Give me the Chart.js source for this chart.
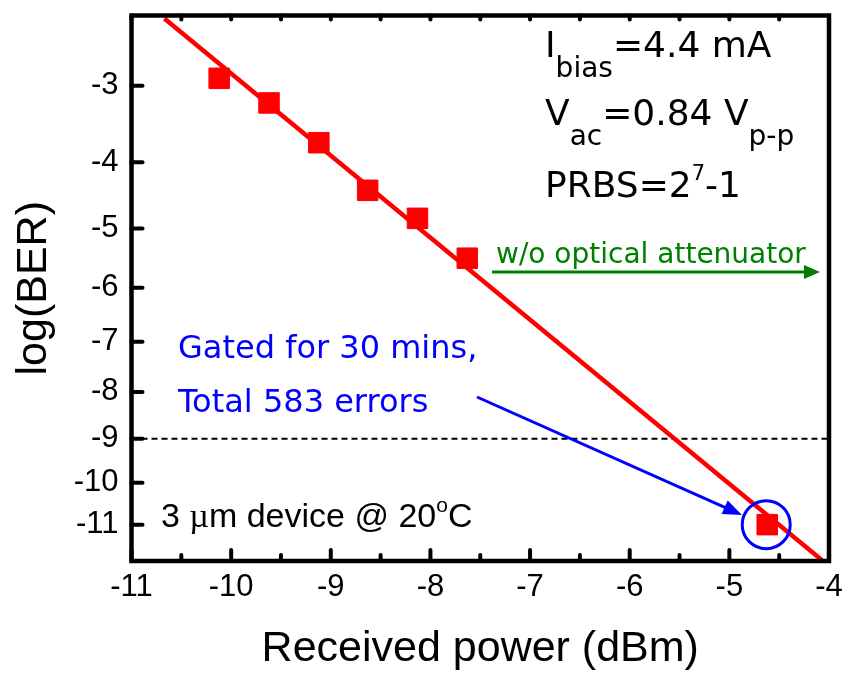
<!DOCTYPE html>
<html>
<head>
<meta charset="utf-8">
<script src="https://cdn.jsdelivr.net/npm/chart.js@4.4.1/dist/chart.umd.min.js"></script>
<style>
  html, body { margin: 0; padding: 0; background: #fff; }
  #ber-chart { display: block; }
</style>
</head>
<body>
<canvas id="ber-chart" width="845" height="673"></canvas>
<script>
// measured points
const powerDbm = [-10.12, -9.62, -9.12, -8.63, -8.13, -7.63, -4.62];
const logBer = [-2.91, -3.21, -3.73, -4.41, -4.84, -5.49, -11.0];

// linear fit on the Q scale
const fitPower = [-10.67, -4.07];
const fitLogBer = [-2.25, -11.89];

// error-free reference level
const floorPower = [-11, -4];
const floorLogBer = [-9, -9];

const yTicks = [-3, -4, -5, -6, -7, -8, -9, -10, -11];
const yRange = [-11.91, -2.22];
const xRange = [-11, -4];

// inverse normal cdf (Acklam)
function normInv(p) {
  const a = [-3.969683028665376e+01, 2.209460984245205e+02, -2.759285104469687e+02, 1.383577518672690e+02, -3.066479806614716e+01, 2.506628277459239e+00];
  const b = [-5.447609879822406e+01, 1.615858368580409e+02, -1.556989798598866e+02, 6.680131188771972e+01, -1.328068155288572e+01];
  const c = [-7.784894002430293e-03, -3.223964580411365e-01, -2.400758277161838e+00, -2.549732539343734e+00, 4.374664141464968e+00, 2.938163982698783e+00];
  const d = [7.784695709041462e-03, 3.224671290700398e-01, 2.445134137142996e+00, 3.754408661907416e+00];
  const plow = 0.02425, phigh = 1 - plow;
  let q, r;
  if (p < plow) {
    q = Math.sqrt(-2 * Math.log(p));
    return (((((c[0]*q+c[1])*q+c[2])*q+c[3])*q+c[4])*q+c[5]) / ((((d[0]*q+d[1])*q+d[2])*q+d[3])*q+1);
  }
  if (p <= phigh) {
    q = p - 0.5; r = q * q;
    return (((((a[0]*r+a[1])*r+a[2])*r+a[3])*r+a[4])*r+a[5])*q / (((((b[0]*r+b[1])*r+b[2])*r+b[3])*r+b[4])*r+1);
  }
  q = Math.sqrt(-2 * Math.log(1 - p));
  return -(((((c[0]*q+c[1])*q+c[2])*q+c[3])*q+c[4])*q+c[5]) / ((((d[0]*q+d[1])*q+d[2])*q+d[3])*q+1);
}

// Q factor for a given log10(BER)
function qOf(lb) {
  return -normInv(Math.pow(10, lb));
}

// y axis that is linear in Q, labelled in log(BER)
class QberScale extends Chart.LinearScale {
  static id = 'qber';
  static defaults = {};

  buildTicks() {
    return yTicks.map(v => ({ value: v }));
  }

  getPixelForValue(value) {
    const qTop = qOf(this.max);
    const qBottom = qOf(this.min);
    return this.getPixelForDecimal((qBottom - qOf(value)) / (qBottom - qTop));
  }

  getValueForPixel(pixel) {
    const qTop = qOf(this.max);
    const qBottom = qOf(this.min);
    const q = qBottom - this.getDecimalForPixel(pixel) * (qBottom - qTop);
    // bisection back to log(BER)
    let lo = this.min, hi = this.max;
    for (let i = 0; i < 50; i++) {
      const mid = (lo + hi) / 2;
      if (qOf(mid) > q) lo = mid; else hi = mid;
    }
    return (lo + hi) / 2;
  }
}
Chart.register(QberScale);

function arrow(ctx, x0, y0, x1, y1, color, width, headLen, headWidth) {
  const ang = Math.atan2(y1 - y0, x1 - x0);
  const bx = x1 - Math.cos(ang) * headLen;
  const by = y1 - Math.sin(ang) * headLen;
  ctx.save();
  ctx.strokeStyle = color;
  ctx.fillStyle = color;
  ctx.lineWidth = width;
  ctx.beginPath();
  ctx.moveTo(x0, y0);
  ctx.lineTo(bx + Math.cos(ang) * 2, by + Math.sin(ang) * 2);
  ctx.stroke();
  ctx.beginPath();
  ctx.moveTo(x1, y1);
  ctx.lineTo(bx + Math.sin(ang) * headWidth / 2, by - Math.cos(ang) * headWidth / 2);
  ctx.lineTo(bx - Math.sin(ang) * headWidth / 2, by + Math.cos(ang) * headWidth / 2);
  ctx.closePath();
  ctx.fill();
  ctx.restore();
}

// draw a run of [text, font, dy] pieces starting at x
function runText(ctx, x, y, parts, color) {
  ctx.save();
  ctx.fillStyle = color;
  ctx.textBaseline = 'alphabetic';
  ctx.textAlign = 'left';
  parts.forEach(([t, font, dy]) => {
    ctx.font = font;
    ctx.fillText(t, x, y + (dy || 0));
    x += ctx.measureText(t).width;
  });
  ctx.restore();
}

const framePlugin = {
  id: 'frame',
  afterDatasetsDraw(chart) {
    const { ctx, chartArea: ca, scales: { x, y } } = chart;
    ctx.save();
    ctx.strokeStyle = '#000';
    ctx.lineCap = 'round';
    ctx.lineWidth = 4;

    // ticks on bottom and top
    for (let v = xRange[0]; v <= xRange[1] + 1e-9; v += 0.5) {
      const px = x.getPixelForValue(v);
      const major = Math.abs(v - Math.round(v)) < 1e-9;
      ctx.beginPath();
      ctx.moveTo(px, ca.bottom);
      ctx.lineTo(px, ca.bottom - (major ? 11 : 6));
      ctx.stroke();
      ctx.beginPath();
      ctx.moveTo(px, ca.top);
      ctx.lineTo(px, ca.top + 4);
      ctx.stroke();
    }
    // ticks on the left
    yTicks.forEach(v => {
      const py = y.getPixelForValue(v);
      ctx.beginPath();
      ctx.moveTo(ca.left, py);
      ctx.lineTo(ca.left + 11, py);
      ctx.stroke();
    });

    ctx.lineWidth = 4.5;
    ctx.lineCap = 'square';
    ctx.lineJoin = 'miter';
    ctx.strokeRect(ca.left, ca.top, ca.right - ca.left, ca.bottom - ca.top);
    ctx.restore();
  },
  afterDraw(chart) {
    const { ctx } = chart;
    const main = '36px "DejaVu Sans"';
    const sub = '28px "DejaVu Sans"';
    const sup = '21px "DejaVu Sans"';
    runText(ctx, 545, 57, [['I', main], ['bias', sub, 20], ['=4.4 mA', main]], '#000');
    runText(ctx, 545, 125, [['V', main], ['ac', sub, 20], ['=0.84 V', main], ['p-p', sub, 20]], '#000');
    runText(ctx, 545, 197, [['PRBS=2', main], ['7', sup, -17], ['-1', main]], '#000');

    // condition label
    const lab = '34px "Liberation Sans"';
    runText(ctx, 161, 527, [['3 ', lab], ['\u00b5', '34px "Liberation Serif"'], ['m device @ 20', lab], ['o', '21px "Liberation Sans"', -15], ['C', lab]], '#000');

    // without attenuator
    runText(ctx, 496, 263, [['w/o optical attenuator', '28px "DejaVu Sans"']], '#008000');
    arrow(ctx, 492, 272, 820, 272, '#008000', 3, 16, 14);

    // gated measurement
    runText(ctx, 178, 358, [['Gated for 30 mins,', '32px "DejaVu Sans"']], '#0000ff');
    runText(ctx, 178, 412, [['Total 583 errors', '32px "DejaVu Sans"']], '#0000ff');
    arrow(ctx, 477, 397, 742, 515, '#0000ff', 3, 19, 15);

    const pt = chart.getDatasetMeta(0).data[logBer.length - 1];
    ctx.save();
    ctx.strokeStyle = '#0000ff';
    ctx.lineWidth = 3;
    ctx.beginPath();
    ctx.arc(pt.x - 1, pt.y, 24, 0, Math.PI * 2);
    ctx.stroke();
    ctx.restore();
  }
};

const tickFont = { family: '"Liberation Sans", Arial, sans-serif', size: 31 };
const titleFont = { family: '"Liberation Sans", Arial, sans-serif', size: 43, lineHeight: 1.1 };

// keep the plot box fixed: no extra room for edge labels
function fixBox(s, w, h) {
  if (w) s.width = w;
  if (h) s.height = h;
  s.paddingTop = 0;
  s.paddingBottom = 0;
  s.paddingLeft = 0;
  s.paddingRight = 0;
}

const config = {
  type: 'scatter',
  data: {
    datasets: [
      {
        label: 'BER',
        data: powerDbm.map((p, i) => ({ x: p, y: logBer[i] })),
        pointStyle: 'rect',
        pointRadius: 14.5,
        pointHoverRadius: 14.5,
        backgroundColor: '#ff0000',
        borderColor: '#ff0000',
        borderWidth: 1
      },
      {
        label: 'fit',
        data: fitPower.map((p, i) => ({ x: p, y: fitLogBer[i] })),
        showLine: true,
        pointRadius: 0,
        borderColor: '#ff0000',
        borderWidth: 4.5
      },
      {
        label: 'floor',
        data: floorPower.map((p, i) => ({ x: p, y: floorLogBer[i] })),
        showLine: true,
        pointRadius: 0,
        borderColor: '#000',
        borderWidth: 2,
        borderDash: [6, 4]
      }
    ]
  },
  options: {
    responsive: false,
    animation: false,
    events: [],
    layout: { padding: { top: 10, right: 16, left: 0, bottom: 0 } },
    plugins: {
      legend: { display: false },
      tooltip: { enabled: false }
    },
    scales: {
      x: {
        type: 'linear',
        min: xRange[0],
        max: xRange[1],
        grid: { display: false, drawTicks: false },
        border: { display: false },
        ticks: {
          stepSize: 1,
          color: '#000',
          font: tickFont,
          padding: 8,
          autoSkip: false,
          maxRotation: 0,
          callback: v => String(v)
        },
        title: {
          display: true,
          text: 'Received power (dBm)',
          color: '#000',
          font: titleFont,
          padding: { top: 0, bottom: 0 }
        },
        afterFit: s => fixBox(s, 0, 112)
      },
      y: {
        type: 'qber',
        min: yRange[0],
        max: yRange[1],
        grid: { display: false, drawTicks: false },
        border: { display: false },
        ticks: {
          color: '#000',
          font: tickFont,
          padding: 13,
          autoSkip: false,
          callback: v => String(v)
        },
        title: {
          display: true,
          text: 'log(BER)',
          color: '#000',
          font: titleFont,
          padding: { top: 10, bottom: 0 }
        },
        afterFit: s => fixBox(s, 131.5, 0)
      }
    }
  },
  plugins: [framePlugin]
};

new Chart(document.getElementById('ber-chart'), config);
</script>
</body>
</html>
